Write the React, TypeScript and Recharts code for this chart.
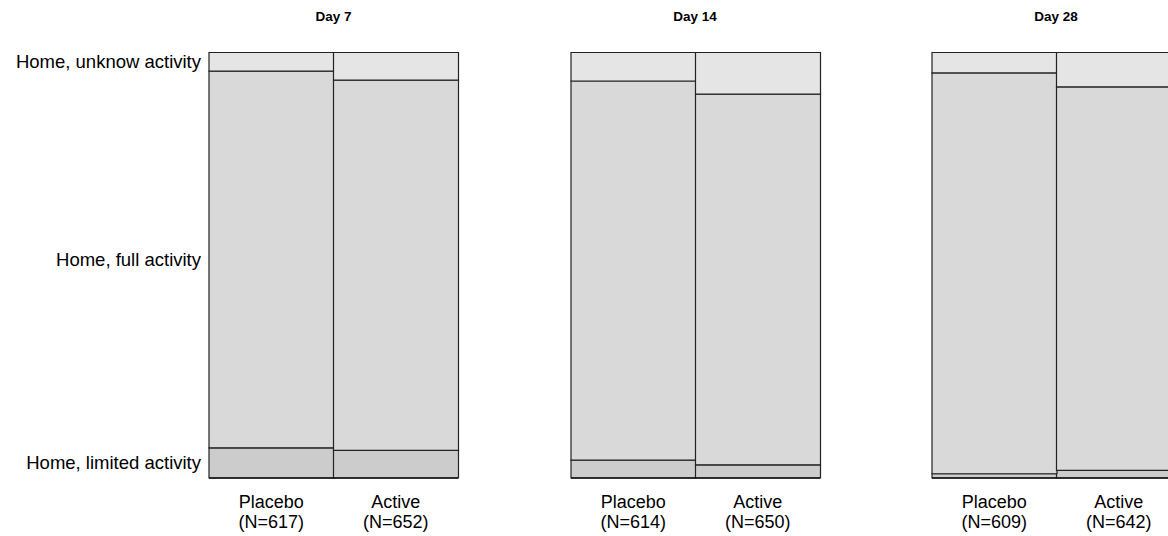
import { BarChart, Bar, XAxis, YAxis } from 'recharts';

const days = ['Day 7', 'Day 14', 'Day 28'];
const groups = ['Placebo', 'Active'];
const sampleSizes = [
  [617, 652],
  [614, 650],
  [609, 642],
];
// percentages per group (Placebo, Active) for each day
const limitedPct = [
  [7.1, 6.5],
  [4.2, 3.1],
  [1.0, 1.8],
];
const fullPct = [
  [88.5, 87.0],
  [89.1, 87.1],
  [94.2, 90.1],
];
const unknownPct = [
  [4.4, 6.5],
  [6.7, 9.8],
  [4.8, 8.1],
];
const categoryLabels = ['Home, limited activity', 'Home, full activity', 'Home, unknow activity'];

const COLORS = { limited: '#cccccc', full: '#d9d9d9', unknown: '#e5e5e5' };
const FONT = '"Liberation Sans", Arial, Helvetica, sans-serif';
const PANEL_LEFT = [209, 570.5, 931.5];
const PLOT_W = 249;
const H = 536;

function buildData(d: number) {
  return groups.map((g, i) => ({
    name: g,
    n: sampleSizes[d][i],
    limited: limitedPct[d][i],
    full: fullPct[d][i],
    unknown: unknownPct[d][i],
  }));
}

// y ticks at the middle of each segment of the first (Day 7 Placebo) bar
const l0 = limitedPct[0][0];
const f0 = fullPct[0][0];
const u0 = unknownPct[0][0];
const yTicks = [l0 / 2, l0 + f0 / 2, l0 + f0 + u0 / 2];

// eslint-disable-next-line @typescript-eslint/no-explicit-any
const XTick = (props: any) => {
  const { x, y, payload, data } = props;
  const row = data.find((r: { name: string }) => r.name === payload.value);
  return (
    <g>
      <text x={x} y={y + 22} textAnchor="middle" fontSize={18} fill="#000" fontFamily={FONT}>
        {payload.value}
      </text>
      <text x={x} y={y + 42} textAnchor="middle" fontSize={18} fill="#000" fontFamily={FONT}>
        {`(N=${row ? row.n : ''})`}
      </text>
    </g>
  );
};

function Panel({ d }: { d: number }) {
  const data = buildData(d);
  const withAxis = d === 0;
  const left = withAxis ? 0 : PANEL_LEFT[d] - 2;
  const width = withAxis ? PANEL_LEFT[0] + PLOT_W + 2 : PLOT_W + 4;
  return (
    <div style={{ position: 'absolute', left, top: 0 }}>
      <BarChart
        width={width}
        height={H}
        data={data}
        barCategoryGap={0}
        barGap={0}
        margin={{ top: 52.5, right: 2, bottom: 8, left: withAxis ? 0 : 2 }}
      >
        <XAxis
          dataKey="name"
          height={50}
          tickLine={false}
          axisLine={{ stroke: '#111', strokeWidth: 1.5 }}
          tick={<XTick data={data} />}
          interval={0}
        />
        <YAxis
          hide={!withAxis}
          type="number"
          domain={[0, 100]}
          ticks={yTicks}
          interval={0}
          width={PANEL_LEFT[0]}
          axisLine={false}
          tickLine={false}
          tickFormatter={(_v: number, i: number) => categoryLabels[i]}
          tick={{ fontSize: 18.5, fill: '#000', fontFamily: FONT }}
        />
        <Bar dataKey="limited" stackId="a" fill={COLORS.limited} stroke="#222" strokeWidth={1.2} isAnimationActive={false} />
        <Bar dataKey="full" stackId="a" fill={COLORS.full} stroke="#222" strokeWidth={1.2} isAnimationActive={false} />
        <Bar dataKey="unknown" stackId="a" fill={COLORS.unknown} stroke="#222" strokeWidth={1.2} isAnimationActive={false} />
      </BarChart>
      <div
        style={{
          position: 'absolute',
          top: 9,
          left: withAxis ? PANEL_LEFT[0] : 2,
          width: PLOT_W,
          textAlign: 'center',
          fontFamily: FONT,
          fontWeight: 'bold',
          fontSize: 13.5,
          color: '#000',
        }}
      >
        {days[d]}
      </div>
    </div>
  );
}

export default function App() {
  return (
    <div
      style={{
        position: 'absolute',
        left: 0,
        top: 0,
        width: 1168,
        height: H,
        overflow: 'hidden',
        background: '#fff',
      }}
    >
      {days.map((_, d) => (
        <Panel key={d} d={d} />
      ))}
    </div>
  );
}
